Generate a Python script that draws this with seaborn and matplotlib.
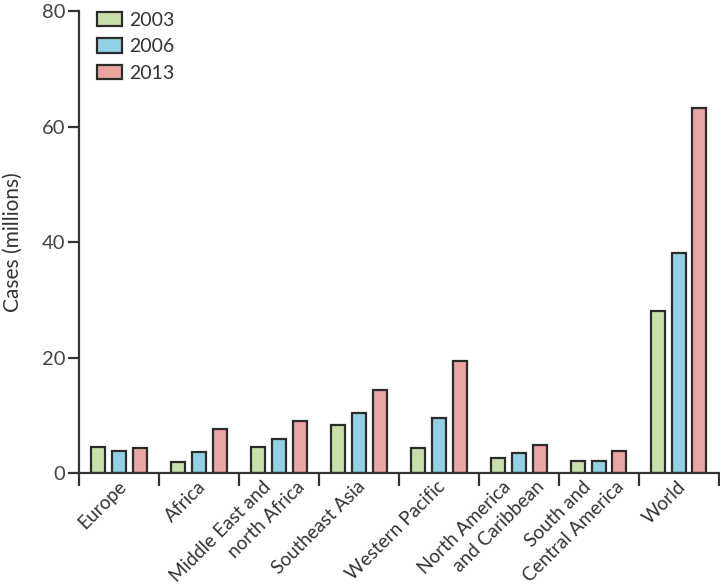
import numpy as np
import pandas as pd
import seaborn as sns
from matplotlib import pyplot as plt
from matplotlib import ticker as plticker
from matplotlib import transforms as mtransforms

regions = [
    'Europe', 'Africa', 'Middle East and\nnorth Africa', 'Southeast Asia',
    'Western Pacific', 'North America\nand Caribbean',
    'South and\nCentral America', 'World',
]
years = ['2003', '2006', '2013']
cases_2003 = [4.5, 2.0, 4.5, 8.3, 4.3, 2.6, 2.1, 28.0]
cases_2006 = [3.8, 3.6, 5.9, 10.4, 9.5, 3.5, 2.1, 38.1]
cases_2013 = [4.3, 7.6, 9.0, 14.4, 19.4, 4.9, 3.8, 63.2]
colors = ['#c7e0aa', '#92d0e6', '#e9a5a1']

df = pd.DataFrame({
    'Region': regions * 3,
    'Year': [y for y in years for _ in regions],
    'Cases': cases_2003 + cases_2006 + cases_2013,
})

sns.set_style('ticks')
plt.rcParams['font.family'] = ['Lato', 'DejaVu Sans']

fig = plt.figure(figsize=(7.2, 5.87), dpi=100)
ax = fig.add_axes([0.110, 0.194, 0.888, 0.787])

sns.barplot(
    data=df, x='Region', y='Cases', hue='Year', order=regions,
    hue_order=years, palette=colors, saturation=1, width=0.78, gap=0.33,
    edgecolor='#2b2b2b', linewidth=1.6, ax=ax,
)

ax.set_xlim(-0.5, len(regions) - 0.5)
ax.set_ylim(0, 80)
ax.yaxis.set_major_locator(plticker.MultipleLocator(20))

# ticks between the groups; the labels are drawn by hand below so that
# each line of a two-line label hangs from the axis on its own
ax.set_xticks(np.arange(len(regions) + 1) - 0.5)
ax.set_xticklabels([])
ax.tick_params(axis='x', which='major', length=9, width=1.6,
               color='#333333')
ax.tick_params(axis='y', length=8, width=1.6, color='#333333',
               labelsize=14.5, labelcolor='#444444', pad=2)

base = mtransforms.blended_transform_factory(ax.transData, ax.transAxes)
for i, label in enumerate(regions):
    lines = label.split('\n')
    if len(lines) == 1:
        shifts = [-2]
    else:
        shifts = [-17, 17]
    for line, dx in zip(lines, shifts):
        tr = mtransforms.offset_copy(base, fig=fig, x=dx, y=-5,
                                     units='dots')
        ax.text(i, 0, line, transform=tr, rotation=45, ha='right',
                va='top', rotation_mode='anchor', fontsize=13.7,
                color='#333333', clip_on=False)

ax.set_xlabel('')
ax.set_ylabel('Cases (millions)', fontsize=15, color='#333333',
              labelpad=14)

for side in ['top', 'right']:
    ax.spines[side].set_visible(False)
for side in ['left', 'bottom']:
    ax.spines[side].set_linewidth(1.6)
    ax.spines[side].set_color('#333333')

leg = ax.legend(loc='upper left', bbox_to_anchor=(0.015, 1.015),
                frameon=False, fontsize=14, handlelength=1.3,
                handleheight=0.75, labelspacing=0.48, handletextpad=0.35,
                borderaxespad=0)
for t in leg.get_texts():
    t.set_color('#333333')

fig.savefig('out.png', dpi=100)
plt.close(fig)
